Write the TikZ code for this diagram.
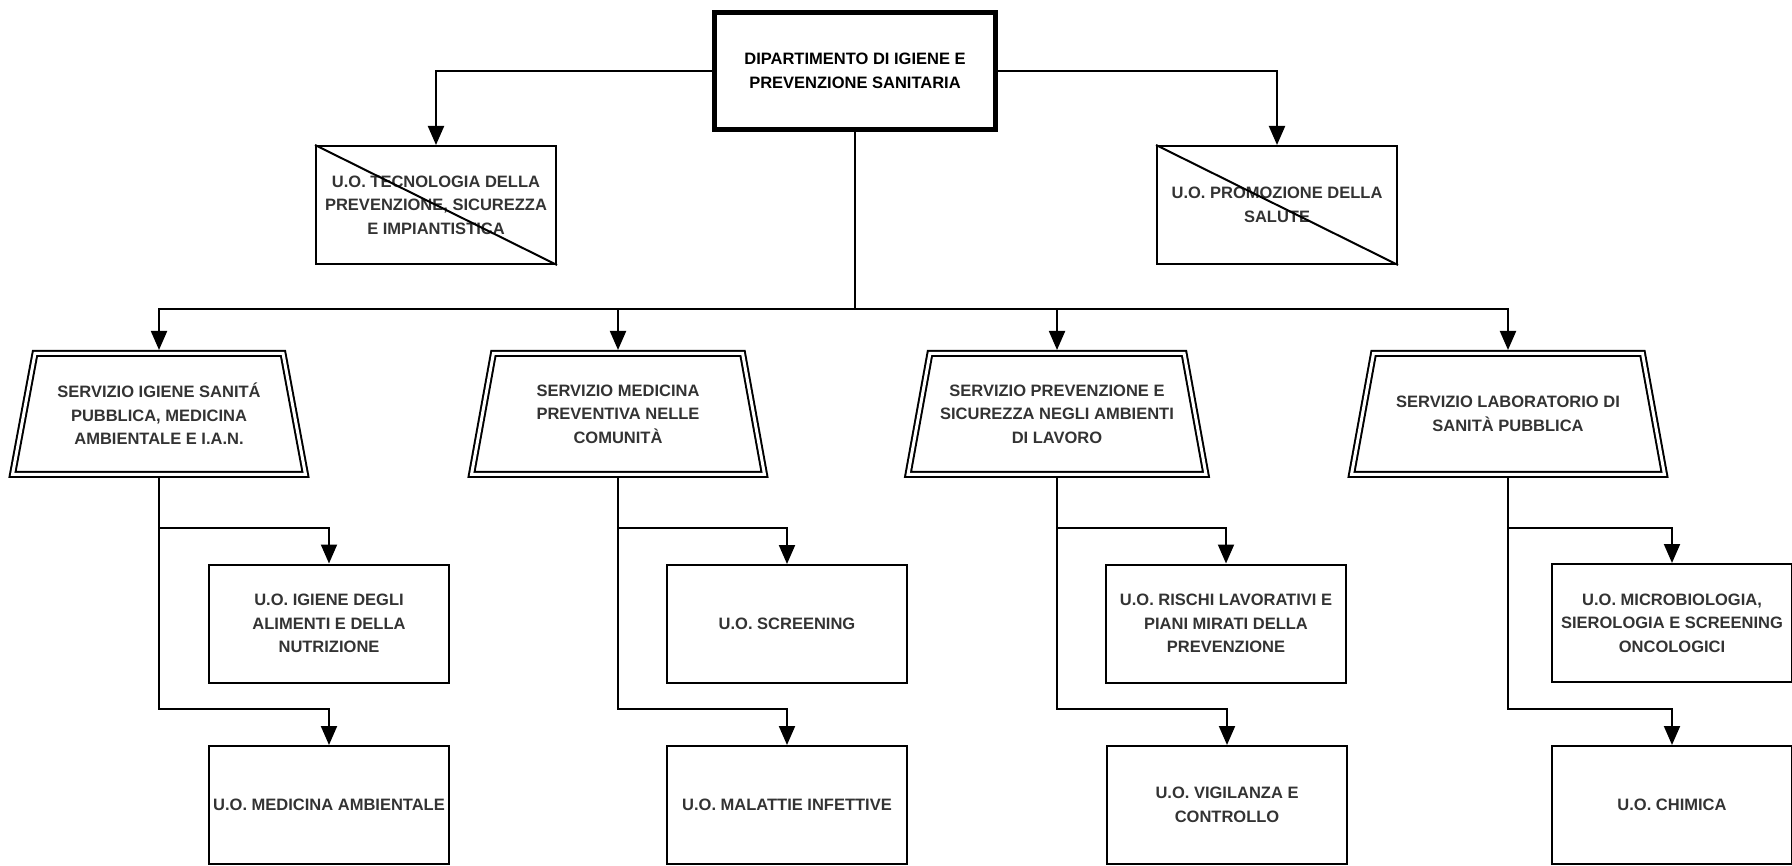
\documentclass[tikz,border=0pt]{standalone}
\usepackage{fontspec}
\setmainfont{Liberation Sans}
\usetikzlibrary{arrows.meta,shapes.geometric}
\tikzset{
  >={Triangle[length=19pt,width=16pt]},
}
\tikzstyle{dip}=[draw,line width=5pt,minimum width=281pt,minimum height=117pt,align=center,text=black]
\tikzstyle{uo}=[draw,line width=2pt,minimum width=240pt,minimum height=118pt,align=center,text=black!80]
\tikzstyle{servizio}=[draw,trapezium,trapezium stretches body=true,trapezium left angle=79,trapezium right angle=79,
  double,double distance=3pt,line width=2pt,minimum height=121pt,inner xsep=2pt,inner ysep=27pt,outer sep=3.5pt,
  align=center,text=black!80]
\tikzstyle{conn}=[line width=2pt,->]
\tikzstyle{every node}=[font=\fontsize{16.5}{23.5}\selectfont\bfseries]

\begin{document}
\begin{tikzpicture}[x=1pt,y=-1pt]
    \useasboundingbox (0,0) rectangle (1792,866);

    \node[dip] (dip) at (855,71) {DIPARTIMENTO DI IGIENE E\\PREVENZIONE SANITARIA};

    \node[uo] (tec) at (436,205) {U.O. TECNOLOGIA DELLA\\PREVENZIONE, SICUREZZA\\E IMPIANTISTICA};
    \node[uo] (prom) at (1277,205) {U.O. PROMOZIONE DELLA\\SALUTE};
    \draw[line width=2pt] (tec.north west) -- (tec.south east);
    \draw[line width=2pt] (prom.north west) -- (prom.south east);
    \draw[conn] (dip.west) -| (tec.north);
    \draw[conn] (dip.east) -| (prom.north);

    \node[servizio,minimum width=293pt] (s1) at (159,414) {SERVIZIO IGIENE SANIT\'A\\PUBBLICA, MEDICINA\\AMBIENTALE E I.A.N.};
    \node[servizio,minimum width=293pt] (s2) at (618,414) {SERVIZIO MEDICINA\\PREVENTIVA NELLE\\COMUNIT\`A};
    \node[servizio,minimum width=298pt] (s3) at (1057,414) {SERVIZIO PREVENZIONE E\\SICUREZZA NEGLI AMBIENTI\\DI LAVORO};
    \node[servizio,minimum width=313pt,inner ysep=39pt] (s4) at (1508,414) {SERVIZIO LABORATORIO DI\\SANIT\`A PUBBLICA};

    \coordinate (bus) at (855,309);
    \foreach \s in {s1,s2,s3,s4}
      \draw[conn] (dip.south) -- (bus) -| (\s.north);

    \node[uo] (u1a) at (329,623.5) {U.O. IGIENE DEGLI\\ALIMENTI E DELLA\\NUTRIZIONE};
    \node[uo] (u1b) at (329,805) {U.O. MEDICINA AMBIENTALE};
    \node[uo] (u2a) at (787,624) {U.O. SCREENING};
    \node[uo] (u2b) at (787,805) {U.O. MALATTIE INFETTIVE};
    \node[uo] (u3a) at (1226,623.5) {U.O. RISCHI LAVORATIVI E\\PIANI MIRATI DELLA\\PREVENZIONE};
    \node[uo] (u3b) at (1227,805) {U.O. VIGILANZA E\\CONTROLLO};
    \node[uo] (u4a) at (1672,623) {U.O. MICROBIOLOGIA,\\SIEROLOGIA E SCREENING\\ONCOLOGICI};
    \node[uo] (u4b) at (1672,805) {U.O. CHIMICA};

    \foreach \s/\a/\b in {s1/u1a/u1b,s2/u2a/u2b,s3/u3a/u3b,s4/u4a/u4b}{
      \draw[conn] (\s.south) -- ++(0,50) -| (\a.north);
      \draw[conn] (\s.south) -- ++(0,231) -| (\b.north);
    }
\end{tikzpicture}
\end{document}
